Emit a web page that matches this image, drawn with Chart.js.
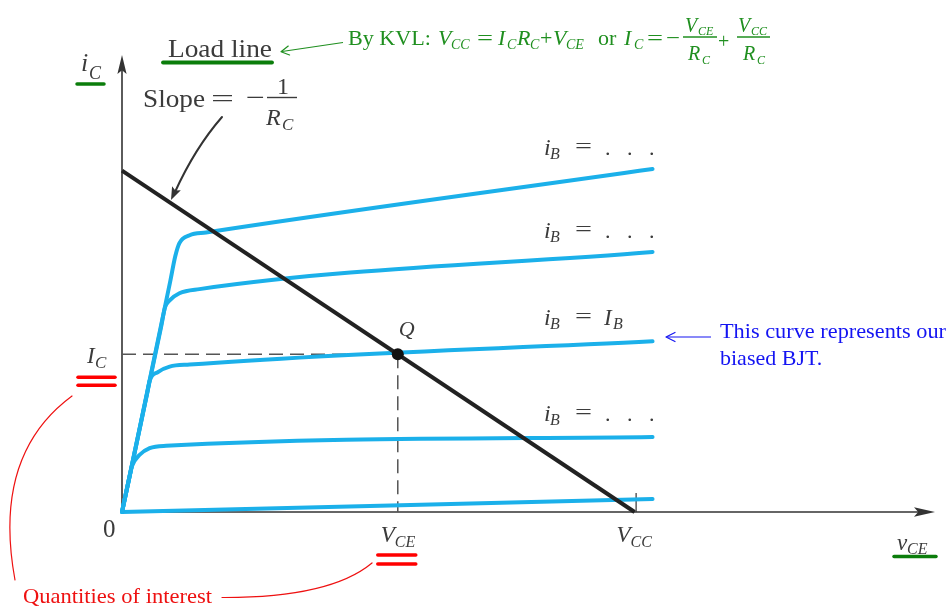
<!DOCTYPE html>
<html>
<head>
<meta charset="utf-8">
<script src="https://cdn.jsdelivr.net/npm/chart.js@4"></script>
<style>
  html, body { margin: 0; padding: 0; background: #fff; }
  #wrap { width: 950px; height: 607px; }
</style>
</head>
<body>
<div id="wrap"><canvas id="c" width="950" height="607"></canvas></div>
<script>
// Circuit quantities (V, kΩ, mA)
const VCC = 10;
const RC = 1;
const VCE_Q = 5.38;
const IC_Q = 4.62;

// Output characteristics, one curve per base current (vCE in V, iC in mA)
const ib1V = [0, 0.94, 1.04, 1.12, 1.32, 1.64, 10.35];
const ib1I = [0, 6.75, 7.50, 7.88, 8.11, 8.19, 10.05];
const ib2V = [0, 0.76, 0.84, 0.93, 1.12, 1.51, 10.35];
const ib2I = [0, 5.40, 6.00, 6.20, 6.41, 6.53, 7.62];
const ib3V = [0, 0.49, 0.54, 0.70, 0.93, 1.32, 10.35];
const ib3I = [0, 3.47, 3.85, 4.10, 4.26, 4.32, 5.00];
const ib4V = [0, 0.17, 0.19, 0.34, 0.54, 0.86, 10.35];
const ib4I = [0, 1.20, 1.33, 1.67, 1.87, 1.94, 2.20];
const ib5V = [0, 10.35];
const ib5I = [0, 0.38];

// Load line end points: (0, VCC/RC) and (VCC, 0)
const loadV = [0, VCC];
const loadI = [VCC / RC, 0];

// Labels printed next to the curves
const ibLabels = ['. . .', '. . .', 'I_B', '. . .'];

const pts = (xs, ys) => xs.map((x, i) => ({ x, y: ys[i] }));

const GRAY = '#3b3b3b';
const BLUE = '#1bb0ea';
const GREEN_T = '#1f8f1f';
const GREEN_U = '#0b7d0b';
const RED = '#ee1111';
const BLUE_T = '#1414f2';
const SERIF = '"Liberation Serif", "Times New Roman", serif';

function txt(ctx, s, x, y, size, color, italic, stretchW) {
  ctx.font = (italic ? 'italic ' : '') + size + 'px ' + SERIF;
  ctx.fillStyle = color;
  ctx.textAlign = 'left';
  ctx.textBaseline = 'alphabetic';
  if (stretchW) {
    const w = ctx.measureText(s).width;
    ctx.save();
    ctx.translate(x, y);
    ctx.scale(stretchW / w, 1);
    ctx.fillText(s, 0, 0);
    ctx.restore();
  } else {
    ctx.fillText(s, x, y);
  }
}

function line(ctx, x1, y1, x2, y2, color, w, cap) {
  ctx.beginPath();
  ctx.moveTo(x1, y1);
  ctx.lineTo(x2, y2);
  ctx.strokeStyle = color;
  ctx.lineWidth = w;
  ctx.lineCap = cap || 'butt';
  ctx.stroke();
}

function openHead(ctx, tx, ty, fx, fy, len, hw, color, w) {
  const a = Math.atan2(ty - fy, tx - fx);
  const bx = tx - Math.cos(a) * len, by = ty - Math.sin(a) * len;
  const nx = -Math.sin(a) * hw, ny = Math.cos(a) * hw;
  ctx.beginPath();
  ctx.moveTo(bx + nx, by + ny);
  ctx.lineTo(tx, ty);
  ctx.lineTo(bx - nx, by - ny);
  ctx.strokeStyle = color;
  ctx.lineWidth = w;
  ctx.lineCap = 'round';
  ctx.lineJoin = 'round';
  ctx.stroke();
}

function filledHead(ctx, tx, ty, a, len, hw, color) {
  const bx = tx - Math.cos(a) * len, by = ty - Math.sin(a) * len;
  const nx = -Math.sin(a) * hw, ny = Math.cos(a) * hw;
  ctx.beginPath();
  ctx.moveTo(tx, ty);
  ctx.lineTo(bx + nx, by + ny);
  ctx.lineTo(tx - Math.cos(a) * len * 0.8, ty - Math.sin(a) * len * 0.8);
  ctx.lineTo(bx - nx, by - ny);
  ctx.closePath();
  ctx.fillStyle = color;
  ctx.fill();
}

// Axes with arrow heads and the VCC tick
const axesPlugin = {
  id: 'axes',
  beforeDatasetsDraw(chart) {
    const { ctx, chartArea: a, scales } = chart;
    ctx.save();
    line(ctx, a.left, a.bottom, a.left, a.top + 14, '#333', 1.6);
    filledHead(ctx, a.left, a.top, -Math.PI / 2, 19, 4.6, '#333');
    line(ctx, a.left, a.bottom, a.right - 14, a.bottom, '#333', 1.6);
    filledHead(ctx, a.right, a.bottom, 0, 21, 4.8, '#333');
    const xv = scales.x.getPixelForValue(VCC) + 1.5;
    line(ctx, xv, a.bottom, xv, a.bottom - 19, '#333', 1.2);
    ctx.restore();
  }
};

// Text, callouts and arrows
const notesPlugin = {
  id: 'notes',
  afterDatasetsDraw(chart) {
    const { ctx, scales } = chart;
    const X = v => scales.x.getPixelForValue(v);
    const Y = v => scales.y.getPixelForValue(v);
    ctx.save();

    // Axis titles
    txt(ctx, 'i', 81, 71, 26, GRAY, true);
    txt(ctx, 'C', 89, 79, 18, GRAY, true);
    line(ctx, 77, 84, 104, 84, GREEN_U, 3.5, 'round');
    txt(ctx, 'v', 897, 550, 23, GRAY, true);
    txt(ctx, 'CE', 907, 554, 16, GRAY, true);
    line(ctx, 894, 556.5, 936, 556.5, GREEN_U, 3.5, 'round');

    // Axis values
    txt(ctx, '0', 103, 537, 25, GRAY, false);
    const xq = X(VCE_Q), xc = X(VCC), yq = Y(IC_Q);
    txt(ctx, 'V', xq - 17, 542, 23, GRAY, true);
    txt(ctx, 'CE', xq - 3, 547, 16, GRAY, true);
    line(ctx, xq - 20, 555, xq + 18, 555, '#f00', 3.5, 'round');
    line(ctx, xq - 20, 564, xq + 18, 564, '#f00', 3.5, 'round');
    txt(ctx, 'V', xc - 18, 542, 23, GRAY, true);
    txt(ctx, 'CC', xc - 4, 547, 16, GRAY, true);
    txt(ctx, 'I', 87, yq + 9, 23, GRAY, true);
    txt(ctx, 'C', 95, yq + 14, 17, GRAY, true);
    line(ctx, 78, yq + 23, 115, yq + 23, '#f00', 3.5, 'round');
    line(ctx, 78, yq + 31, 115, yq + 31, '#f00', 3.5, 'round');

    // Q point label
    txt(ctx, 'Q', xq + 1, yq - 18, 22, GRAY, true);

    // Labels of the curves
    const ibBase = [155, 238, 325, 421];
    ibBase.forEach((b, k) => {
      txt(ctx, 'i', 544, b, 24, GRAY, true);
      txt(ctx, 'B', 550, b + 4, 16, GRAY, true);
      txt(ctx, '=', 575, b - 2, 22, GRAY, false, 17);
      if (ibLabels[k] === 'I_B') {
        txt(ctx, 'I', 604, b, 23, GRAY, true);
        txt(ctx, 'B', 613, b + 4, 16, GRAY, true);
      } else {
        txt(ctx, '.', 605, b, 22, GRAY, false);
        txt(ctx, '.', 627, b, 22, GRAY, false);
        txt(ctx, '.', 649, b, 22, GRAY, false);
      }
    });

    // Load line title
    txt(ctx, 'Load line', 168, 57, 26, GRAY, false, 104);
    line(ctx, 163, 62.5, 272, 62.5, GREEN_U, 3.8, 'round');

    // Slope annotation
    txt(ctx, 'Slope', 143, 107, 26, GRAY, false, 62);
    txt(ctx, '=', 211, 107, 26, GRAY, false, 23);
    txt(ctx, '\u2212', 246, 106, 26, GRAY, false, 19);
    txt(ctx, '1', 277, 94, 24, GRAY, false);
    line(ctx, 267, 97.5, 297, 97.5, GRAY, 1.4);
    txt(ctx, 'R', 266, 125, 24, GRAY, true);
    txt(ctx, 'C', 282, 130, 17, GRAY, true);
    ctx.beginPath();
    ctx.moveTo(222, 117);
    ctx.quadraticCurveTo(195, 148, 175, 192);
    ctx.strokeStyle = '#333';
    ctx.lineWidth = 2;
    ctx.lineCap = 'round';
    ctx.stroke();
    filledHead(ctx, 171, 200, Math.atan2(200 - 148, 171 - 195), 13, 4.8, '#333');

    // KVL equation
    txt(ctx, 'By KVL:', 348, 45, 22, GREEN_T, false, 83);
    txt(ctx, 'V', 438, 45, 22, GREEN_T, true);
    txt(ctx, 'CC', 451, 49, 14, GREEN_T, true);
    txt(ctx, '=', 477, 45, 22, GREEN_T, false, 16);
    txt(ctx, 'I', 498, 45, 22, GREEN_T, true);
    txt(ctx, 'C', 507, 49, 14, GREEN_T, true);
    txt(ctx, 'R', 517, 45, 22, GREEN_T, true);
    txt(ctx, 'C', 530, 49, 14, GREEN_T, true);
    txt(ctx, '+', 540, 45, 22, GREEN_T, false);
    txt(ctx, 'V', 553, 45, 22, GREEN_T, true);
    txt(ctx, 'CE', 566, 49, 14, GREEN_T, true);
    txt(ctx, 'or', 598, 45, 22, GREEN_T, false);
    txt(ctx, 'I', 624, 45, 22, GREEN_T, true);
    txt(ctx, 'C', 634, 49, 14, GREEN_T, true);
    txt(ctx, '=', 647, 45, 22, GREEN_T, false, 16);
    txt(ctx, '\u2212', 666, 45, 22, GREEN_T, false, 14);
    txt(ctx, 'V', 685, 32, 20, GREEN_T, true);
    txt(ctx, 'CE', 698, 35, 12, GREEN_T, true);
    line(ctx, 683, 37, 717, 37, GREEN_T, 1.3);
    txt(ctx, 'R', 688, 60, 20, GREEN_T, true);
    txt(ctx, 'C', 702, 64, 12, GREEN_T, true);
    txt(ctx, '+', 718, 48, 20, GREEN_T, false);
    txt(ctx, 'V', 738, 32, 20, GREEN_T, true);
    txt(ctx, 'CC', 751, 35, 12, GREEN_T, true);
    line(ctx, 737, 37, 770, 37, GREEN_T, 1.3);
    txt(ctx, 'R', 743, 60, 20, GREEN_T, true);
    txt(ctx, 'C', 757, 64, 12, GREEN_T, true);
    line(ctx, 343, 42.5, 282, 51.5, GREEN_T, 1.2);
    openHead(ctx, 281, 51.7, 343, 42.5, 8, 4.5, GREEN_T, 1.2);

    // Callout for the biased curve
    txt(ctx, 'This curve represents our', 720, 338, 22, BLUE_T, false, 226);
    txt(ctx, 'biased BJT.', 720, 365, 22, BLUE_T, false);
    line(ctx, 711, 337, 667, 337, BLUE_T, 1.2);
    openHead(ctx, 666, 337, 711, 337, 9, 4.5, BLUE_T, 1.2);

    // Quantities of interest
    txt(ctx, 'Quantities of interest', 23, 603, 22, RED, false, 189);
    ctx.beginPath();
    ctx.moveTo(222, 597.5);
    ctx.quadraticCurveTo(330, 598, 372, 563);
    ctx.moveTo(72, 396);
    ctx.quadraticCurveTo(-8, 455, 15, 580);
    ctx.strokeStyle = RED;
    ctx.lineWidth = 1.2;
    ctx.lineCap = 'round';
    ctx.stroke();

    ctx.restore();
  }
};

const curve = (xs, ys) => ({
  data: pts(xs, ys),
  borderColor: BLUE,
  borderWidth: 4,
  cubicInterpolationMode: 'monotone',
  pointRadius: 0,
  borderCapStyle: 'round',
  borderJoinStyle: 'round',
  clip: false
});

new Chart(document.getElementById('c'), {
  type: 'line',
  data: {
    datasets: [
      {
        data: [{ x: VCE_Q, y: IC_Q }],
        showLine: false,
        pointRadius: 6,
        pointBackgroundColor: '#111',
        pointBorderWidth: 0,
        clip: false
      },
      {
        data: pts(loadV, loadI),
        borderColor: '#222',
        borderWidth: 4,
        pointRadius: 0,
        tension: 0,
        borderCapStyle: 'butt',
        clip: false
      },
      curve(ib1V, ib1I),
      curve(ib2V, ib2I),
      curve(ib3V, ib3I),
      curve(ib4V, ib4I),
      curve(ib5V, ib5I),
      {
        data: [{ x: 0, y: IC_Q }, { x: VCE_Q, y: IC_Q }],
        borderColor: '#555',
        borderWidth: 1.5,
        borderDash: [14, 7],
        pointRadius: 0,
        clip: false
      },
      {
        data: [{ x: VCE_Q, y: IC_Q }, { x: VCE_Q, y: 0 }],
        borderColor: '#555',
        borderWidth: 1.5,
        borderDash: [14, 7],
        pointRadius: 0,
        clip: false
      }
    ]
  },
  options: {
    responsive: false,
    animation: false,
    devicePixelRatio: 1,
    layout: { padding: { left: 122, right: 15, top: 55, bottom: 95 } },
    scales: {
      x: { type: 'linear', min: 0, max: 15.86, display: false },
      y: { type: 'linear', min: 0, max: 13.39, display: false }
    },
    plugins: { legend: { display: false }, tooltip: { enabled: false } },
    events: []
  },
  plugins: [axesPlugin, notesPlugin]
});
</script>
</body>
</html>
